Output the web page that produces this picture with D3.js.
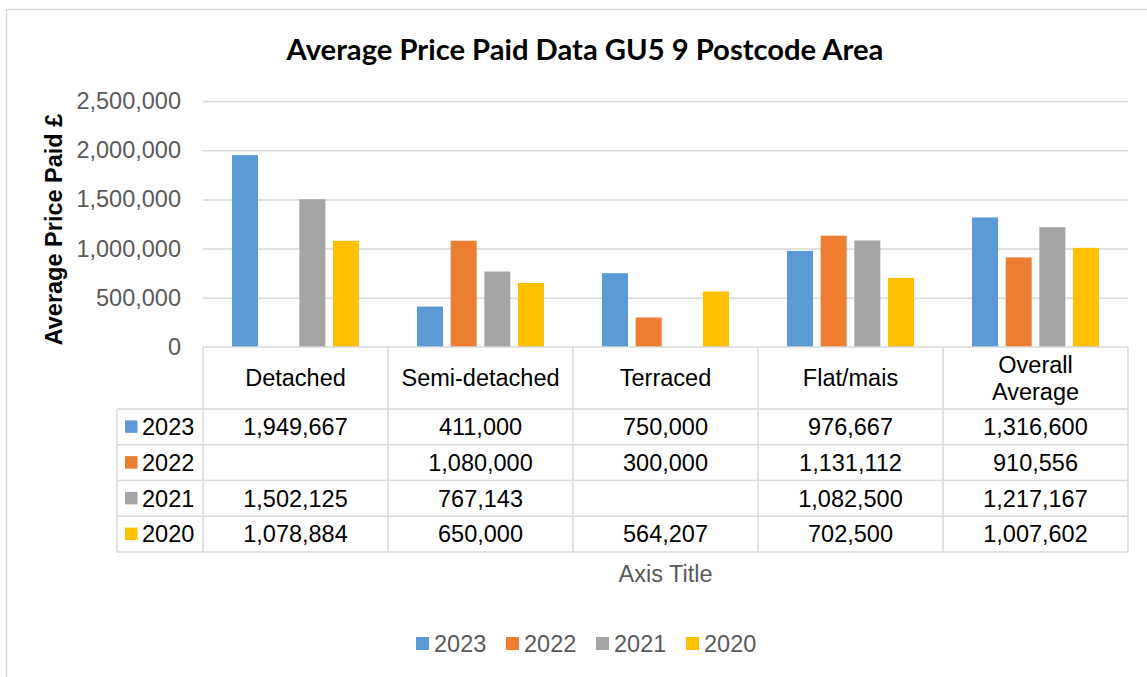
<!DOCTYPE html>
<html>
<head>
<meta charset="utf-8">
<script src="https://cdn.jsdelivr.net/npm/d3@7"></script>
<style>
  html, body { margin: 0; padding: 0; background: #fff; }
  svg { display: block; }
</style>
</head>
<body>
<svg id="chart" width="1147" height="677"></svg>
<script>
// ---- data ----
const categories = ["Detached", "Semi-detached", "Terraced", "Flat/mais", "Overall Average"];
const seriesNames = ["2023", "2022", "2021", "2020"];
const values2023 = [1949667, 411000, 750000, 976667, 1316600];
const values2022 = [null, 1080000, 300000, 1131112, 910556];
const values2021 = [1502125, 767143, null, 1082500, 1217167];
const values2020 = [1078884, 650000, 564207, 702500, 1007602];
const yTicks = [0, 500000, 1000000, 1500000, 2000000, 2500000];
const colors = ["#5b9bd5", "#ed7d31", "#a5a5a5", "#ffc000"];
const chartTitle = "Average Price Paid Data GU5 9 Postcode Area";
const yAxisTitle = "Average Price Paid \u00a3";
const xAxisTitle = "Axis Title";

const seriesValues = [values2023, values2022, values2021, values2020];
const series = seriesNames.map((name, i) => ({ name, color: colors[i], values: seriesValues[i] }));

// ---- layout ----
const svg = d3.select("#chart");
const plot = { left: 203, right: 1128, top: 101, bottom: 347 };
const tableLeft = 117;
const headerH = 62;
const rowH = 35.75;
const font = "'Liberation Sans', Arial, sans-serif";
const fs = 23.5;
const grid = "#d9d9d9";

// outer chart border
svg.append("path")
  .attr("d", "M6.5,677 L6.5,9.5 L1147,9.5")
  .attr("fill", "none").attr("stroke", grid).attr("stroke-width", 1.5);

const x0 = d3.scaleBand().domain(categories).range([plot.left, plot.right]).padding(0);
const x1 = d3.scaleBand().domain(seriesNames).range([29, x0.bandwidth() - 29]).paddingInner(0.227).paddingOuter(0);
const y = d3.scaleLinear().domain([0, 2500000]).range([plot.bottom, plot.top]);

// gridlines
const gridAxis = d3.axisLeft(y).tickValues(yTicks.filter(t => t > 0)).tickSize(-(plot.right - plot.left)).tickFormat("");
const gg = svg.append("g").attr("transform", `translate(${plot.left},0)`).call(gridAxis);
gg.select(".domain").remove();
gg.selectAll("line").attr("stroke", grid).attr("stroke-width", 1.5);

// y axis labels
const yAxis = d3.axisLeft(y).tickValues(yTicks).tickSize(0).tickPadding(22).tickFormat(d3.format(","));
const ya = svg.append("g").attr("transform", `translate(${plot.left},0)`).call(yAxis);
ya.select(".domain").remove();
ya.selectAll("text").attr("font-family", font).attr("font-size", fs).attr("fill", "#595959");

// bars
const groups = svg.append("g").selectAll("g").data(series).join("g").attr("fill", d => d.color);
groups.selectAll("rect")
  .data(s => s.values.map((v, i) => ({ cat: categories[i], v, name: s.name })).filter(d => d.v != null))
  .join("rect")
  .attr("x", d => x0(d.cat) + x1(d.name))
  .attr("width", x1.bandwidth())
  .attr("y", d => y(d.v))
  .attr("height", d => y(0) - y(d.v));

// title
svg.append("text")
  .attr("x", 585).attr("y", 60).attr("text-anchor", "middle")
  .attr("font-family", "Lato, 'Open Sans', sans-serif").attr("font-weight", "bold")
  .attr("font-size", 29.2).attr("fill", "#000")
  .text(chartTitle);

// y axis title
svg.append("text")
  .attr("transform", "translate(62,229.5) rotate(-90)")
  .attr("text-anchor", "middle")
  .attr("font-family", font).attr("font-weight", "bold").attr("font-size", fs).attr("fill", "#000")
  .text(yAxisTitle);

// ---- data table ----
const tbl = svg.append("g");
const tTop = plot.bottom;
const tableBottom = tTop + headerH + rowH * series.length;
const lineAttrs = sel => sel.attr("stroke", grid).attr("stroke-width", 1.5).attr("fill", "none");

// horizontal lines
tbl.append("line").attr("x1", plot.left).attr("x2", plot.right).attr("y1", tTop).attr("y2", tTop).call(lineAttrs);
series.forEach((s, i) => {
  const yy = tTop + headerH + rowH * i;
  tbl.append("line").attr("x1", tableLeft).attr("x2", plot.right).attr("y1", yy).attr("y2", yy).call(lineAttrs);
});
tbl.append("line").attr("x1", tableLeft).attr("x2", plot.right).attr("y1", tableBottom).attr("y2", tableBottom).call(lineAttrs);
// vertical lines
tbl.append("line").attr("x1", tableLeft).attr("x2", tableLeft).attr("y1", tTop + headerH).attr("y2", tableBottom).call(lineAttrs);
categories.forEach(c => {
  const xx = x0(c);
  tbl.append("line").attr("x1", xx).attr("x2", xx).attr("y1", tTop).attr("y2", tableBottom).call(lineAttrs);
});
tbl.append("line").attr("x1", plot.right).attr("x2", plot.right).attr("y1", tTop).attr("y2", tableBottom).call(lineAttrs);

// header labels (wrap when too wide)
categories.forEach(c => {
  const t = tbl.append("text")
    .attr("x", x0(c) + x0.bandwidth() / 2).attr("text-anchor", "middle")
    .attr("font-family", font).attr("font-size", fs).attr("fill", "#000")
    .text(c);
  const w = t.node().getComputedTextLength();
  const cy = tTop + headerH / 2;
  if (w > 163 && c.includes(" ")) {
    t.text("");
    const words = c.split(" ");
    const half = Math.ceil(words.length / 2);
    const lines = [words.slice(0, half).join(" "), words.slice(half).join(" ")];
    lines.forEach((ln, k) => {
      t.append("tspan").attr("x", x0(c) + x0.bandwidth() / 2)
        .attr("y", cy + (k - 0.5) * 27).attr("dy", "0.35em").text(ln);
    });
  } else {
    t.attr("y", cy).attr("dy", "0.35em");
  }
});

// rows
const fmt = d3.format(",");
series.forEach((s, i) => {
  const cy = tTop + headerH + rowH * i + rowH / 2;
  tbl.append("rect").attr("x", 125).attr("y", cy - 6.5).attr("width", 12.5).attr("height", 12.5).attr("fill", s.color);
  tbl.append("text").attr("x", 142).attr("y", cy).attr("dy", "0.35em")
    .attr("font-family", font).attr("font-size", fs).attr("fill", "#000").text(s.name);
  s.values.forEach((v, j) => {
    if (v == null) return;
    tbl.append("text").attr("x", x0(categories[j]) + x0.bandwidth() / 2).attr("y", cy).attr("dy", "0.35em")
      .attr("text-anchor", "middle")
      .attr("font-family", font).attr("font-size", fs).attr("fill", "#000").text(fmt(v));
  });
});

// x axis title
svg.append("text")
  .attr("x", (plot.left + plot.right) / 2).attr("y", 582).attr("text-anchor", "middle")
  .attr("font-family", font).attr("font-size", fs).attr("fill", "#595959")
  .text(xAxisTitle);

// legend
const legend = svg.append("g").attr("transform", "translate(416,637)");
const item = legend.selectAll("g").data(series).join("g").attr("transform", (d, i) => `translate(${i * 90},0)`);
item.append("rect").attr("width", 13).attr("height", 13).attr("fill", d => d.color);
item.append("text").attr("x", 18).attr("y", 15)
  .attr("font-family", font).attr("font-size", fs).attr("fill", "#595959").text(d => d.name);
</script>
</body>
</html>
